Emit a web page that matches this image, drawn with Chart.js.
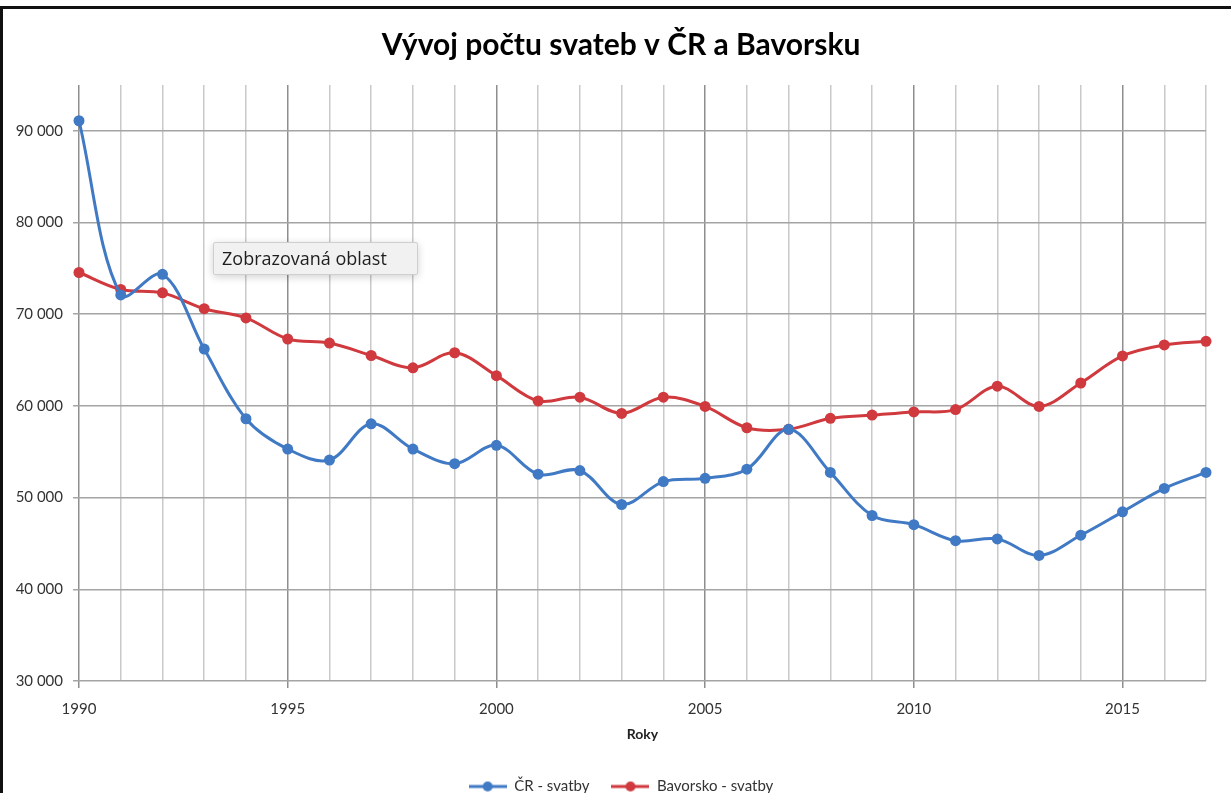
<!DOCTYPE html>
<html lang="cs">
<head>
<meta charset="utf-8">
<title>Vývoj počtu svateb v ČR a Bavorsku</title>
<script src="https://cdn.jsdelivr.net/npm/chart.js"></script>
<style>
  html, body { margin: 0; padding: 0; background: #fff; overflow: hidden; }
  #frame {
    position: absolute; left: 0; top: 6px; width: 1400px; height: 900px;
    border-top: 3px solid #111; border-left: 3px solid #111;
  }
  #chart { position: absolute; left: 0; top: 0; }
  #hint {
    position: absolute; left: 213px; top: 242px; width: 195px; height: 31px;
    background: #f1f1f1; border: 1px solid #cfcfcf; border-radius: 2px;
    box-shadow: 0 2px 9px rgba(0, 0, 0, 0.18);
    font: 18px "Open Sans", sans-serif; color: #1e1e1e;
    line-height: 31px; padding-left: 8px; box-sizing: content-box;
  }
</style>
</head>
<body>
<div id="frame"></div>
<canvas id="chart" width="1231" height="804"></canvas>
<div id="hint">Zobrazovaná oblast</div>
<script>
/* global Chart */

// data
const years = [1990, 1991, 1992, 1993, 1994, 1995, 1996, 1997, 1998, 1999,
               2000, 2001, 2002, 2003, 2004, 2005, 2006, 2007, 2008, 2009,
               2010, 2011, 2012, 2013, 2014, 2015, 2016, 2017];
const crSvatby = [91100, 72100, 74350, 66200, 58600, 55300, 54100, 58050, 55300, 53700,
                  55700, 52550, 52950, 49250, 51750, 52100, 53100, 57450, 52750, 48050,
                  47050, 45300, 45500, 43700, 45900, 48450, 51000, 52750];
const bavSvatby = [74550, 72700, 72330, 70600, 69600, 67300, 66860, 65500, 64150, 65800,
                   63300, 60550, 60950, 59180, 60950, 59950, 57620, 57450, 58650, 59000,
                   59350, 59600, 62150, 59950, 62500, 65450, 66650, 67050];
const yTicks = [30000, 40000, 50000, 60000, 70000, 80000, 90000];
const seriesNames = ["ČR - svatby", "Bavorsko - svatby"];

const BLUE = "#4079c4";
const RED = "#d0393d";

// legend marker: short line with a dot, like Excel does it
function legendMark(color) {
    const c = document.createElement("canvas");
    c.width = 38;
    c.height = 12;
    const g = c.getContext("2d");
    g.strokeStyle = color;
    g.lineWidth = 3;
    g.beginPath();
    g.moveTo(0, 6);
    g.lineTo(38, 6);
    g.stroke();
    g.fillStyle = color;
    g.beginPath();
    g.arc(19, 6, 5, 0, Math.PI * 2);
    g.fill();
    return c;
}
const marks = [legendMark(BLUE), legendMark(RED)];

function fmt(v) {
    return String(v).replace(/\B(?=(\d{3})+(?!\d))/g, " ");
}

function series(values, name, color) {
    return {
        label: name,
        data: years.map((y, i) => ({ x: y, y: values[i] })),
        borderColor: color,
        backgroundColor: color,
        borderWidth: 3,
        pointRadius: 5.5,
        pointBorderWidth: 0,
        pointBackgroundColor: color,
        tension: 0.35,
        clip: false
    };
}

// y labels stick out past the left padding, so widen their clip box
const unclipYLabels = {
    id: "unclipYLabels",
    afterLayout(chart) {
        chart.scales.y.left = 0;
    }
};

Chart.defaults.font.family = "Lato, 'Open Sans', sans-serif";
Chart.defaults.color = "#333";

new Chart(document.getElementById("chart").getContext("2d"), {
    type: "line",
    data: {
        datasets: [
            series(crSvatby, seriesNames[0], BLUE),
            series(bavSvatby, seriesNames[1], RED)
        ]
    },
    options: {
        responsive: false,
        animation: false,
        events: [],
        // left padding keeps title and legend centred like in the original
        layout: { padding: { left: 36, right: 25, top: 0, bottom: 0 } },
        scales: {
            x: {
                type: "linear",
                min: 1990,
                max: 2017,
                afterBuildTicks: (scale) => {
                    scale.ticks = years.map(v => ({ value: v }));
                },
                afterFit: (scale) => { scale.height = 76; },
                border: { display: false },
                grid: {
                    color: (ctx) => (ctx.tick && ctx.tick.value % 5 === 0) ? "#8e8e8e" : "#c9c9c9",
                    tickColor: (ctx) => (ctx.tick && ctx.tick.value % 5 === 0) ? "#8e8e8e" : "rgba(0,0,0,0)",
                    lineWidth: 1.5,
                    tickLength: 7
                },
                ticks: {
                    autoSkip: false,
                    maxRotation: 0,
                    padding: 12,
                    font: { size: 15 },
                    callback: (v) => (v % 5 === 0 ? String(v) : "")
                },
                title: {
                    display: true,
                    text: "Roky",
                    color: "#222",
                    font: { size: 14, weight: "bold" },
                    padding: { top: 0, bottom: 14 }
                }
            },
            y: {
                min: 30000,
                max: 95000,
                afterBuildTicks: (scale) => {
                    scale.ticks = yTicks.map(v => ({ value: v }));
                },
                afterFit: (scale) => { scale.width = 43; },
                border: { display: false },
                grid: {
                    color: "#a4a4a4",
                    tickColor: "#a4a4a4",
                    lineWidth: 1.5,
                    tickLength: 6
                },
                ticks: {
                    padding: 10,
                    font: { size: 15 },
                    callback: (v) => fmt(v)
                }
            }
        },
        plugins: {
            title: {
                display: true,
                text: "Vývoj počtu svateb v ČR a Bavorsku",
                color: "#000",
                font: { size: 30, weight: "bold" },
                padding: { top: 27, bottom: 22 }
            },
            legend: {
                position: "bottom",
                labels: {
                    usePointStyle: true,
                    pointStyleWidth: 38,
                    padding: 22,
                    color: "#333",
                    font: { size: 15 },
                    generateLabels: (chart) => chart.data.datasets.map((ds, i) => ({
                        text: ds.label,
                        pointStyle: marks[i],
                        fontColor: "#333",
                        fillStyle: "rgba(0,0,0,0)",
                        strokeStyle: "rgba(0,0,0,0)",
                        lineWidth: 0,
                        hidden: false,
                        datasetIndex: i
                    }))
                }
            },
            tooltip: { enabled: false }
        }
    },
    plugins: [unclipYLabels]
});
</script>
</body>
</html>
